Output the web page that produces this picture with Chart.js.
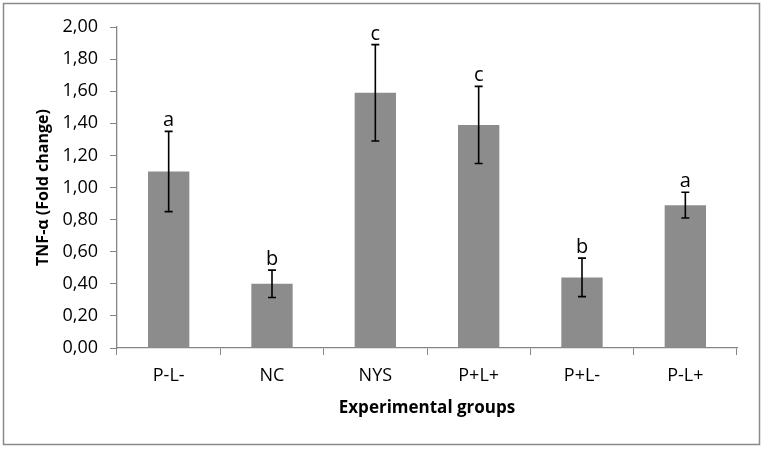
<!DOCTYPE html>
<html>
<head>
<meta charset="utf-8">
<script src="https://cdn.jsdelivr.net/npm/chart.js@4/dist/chart.umd.min.js"></script>
<style>
  html, body { margin: 0; padding: 0; background: #fff; }
  #wrap { width: 763px; height: 449px; position: relative; }
</style>
</head>
<body>
<div id="wrap"><canvas id="tnfChart"></canvas></div>
<script>
// --- Data ---
const groups = ['P-L-', 'NC', 'NYS', 'P+L+', 'P+L-', 'P-L+'];
const foldChange = [1.10, 0.40, 1.59, 1.39, 0.44, 0.89];
const errors = [0.25, 0.085, 0.30, 0.24, 0.12, 0.08];
const sigLetters = ['a', 'b', 'c', 'c', 'b', 'a'];
const yTicks = [0, 0.2, 0.4, 0.6, 0.8, 1.0, 1.2, 1.4, 1.6, 1.8, 2.0];

const FONT = "'Open Sans', sans-serif";
const AXIS_GREY = '#868686';

// frame round the whole picture
const framePlugin = {
    id: 'frame',
    beforeDraw(chart) {
        const ctx = chart.ctx;
        ctx.save();
        ctx.fillStyle = '#ffffff';
        ctx.fillRect(0, 0, chart.width, chart.height);
        ctx.strokeStyle = '#8a8a8a';
        ctx.lineWidth = 1.5;
        ctx.strokeRect(3.5, 3.5, 756, 441);
        ctx.restore();
    }
};

// error bars + significance letters
const errorBarPlugin = {
    id: 'errorBars',
    afterDatasetsDraw(chart) {
        const ctx = chart.ctx;
        const y = chart.scales.y;
        const meta = chart.getDatasetMeta(0);
        ctx.save();
        ctx.strokeStyle = '#000';
        ctx.lineWidth = 1.6;
        meta.data.forEach((bar, i) => {
            const x = bar.x;
            const top = y.getPixelForValue(foldChange[i] + errors[i]);
            const bot = y.getPixelForValue(foldChange[i] - errors[i]);
            ctx.beginPath();
            ctx.moveTo(x, top); ctx.lineTo(x, bot);
            ctx.moveTo(x - 4, top); ctx.lineTo(x + 4, top);
            ctx.moveTo(x - 4, bot); ctx.lineTo(x + 4, bot);
            ctx.stroke();
            ctx.fillStyle = '#000';
            ctx.font = '20px ' + FONT;
            ctx.textAlign = 'center';
            ctx.textBaseline = 'alphabetic';
            ctx.fillText(sigLetters[i], x, top - 5);
        });
        ctx.restore();
    }
};

const ctx = document.getElementById('tnfChart').getContext('2d');
new Chart(ctx, {
    type: 'bar',
    data: {
        labels: groups,
        datasets: [{
            data: foldChange,
            backgroundColor: '#8c8c8c',
            borderWidth: 0,
            barPercentage: 0.4,
            categoryPercentage: 1.0
        }]
    },
    options: {
        responsive: true,
        maintainAspectRatio: false,
        animation: false,
        layout: { padding: { left: 10, right: 26, top: 27, bottom: 20 } },
        plugins: { legend: { display: false }, tooltip: { enabled: false } },
        scales: {
            x: {
                grid: { offset: true, drawOnChartArea: false, tickLength: 7, color: AXIS_GREY },
                border: { color: AXIS_GREY, width: 1.3 },
                ticks: { color: '#000', font: { family: FONT, size: 18 }, padding: 10, maxRotation: 0 },
                title: {
                    display: true, text: 'Experimental groups', color: '#000',
                    font: { family: FONT, size: 17, weight: 'bold' }, padding: { top: 0, bottom: 11 }
                },
                afterFit(scale) { scale.height = 81; }
            },
            y: {
                min: 0, max: 2,
                afterBuildTicks(scale) { scale.ticks = yTicks.map(v => ({ value: v })); },
                grid: { drawOnChartArea: false, tickLength: 7, color: AXIS_GREY },
                border: { color: AXIS_GREY, width: 1.3 },
                ticks: {
                    color: '#000', font: { family: FONT, size: 18 }, padding: 12,
                    callback: (v) => Number(v).toFixed(2).replace('.', ',')
                },
                title: {
                    display: true, text: 'TNF-α (Fold change)', color: '#000',
                    font: { family: FONT, size: 16, weight: 'bold' }, padding: { top: 24, bottom: 0 }
                },
                afterFit(scale) { scale.width = 107; }
            }
        }
    },
    plugins: [framePlugin, errorBarPlugin]
});
</script>
</body>
</html>
